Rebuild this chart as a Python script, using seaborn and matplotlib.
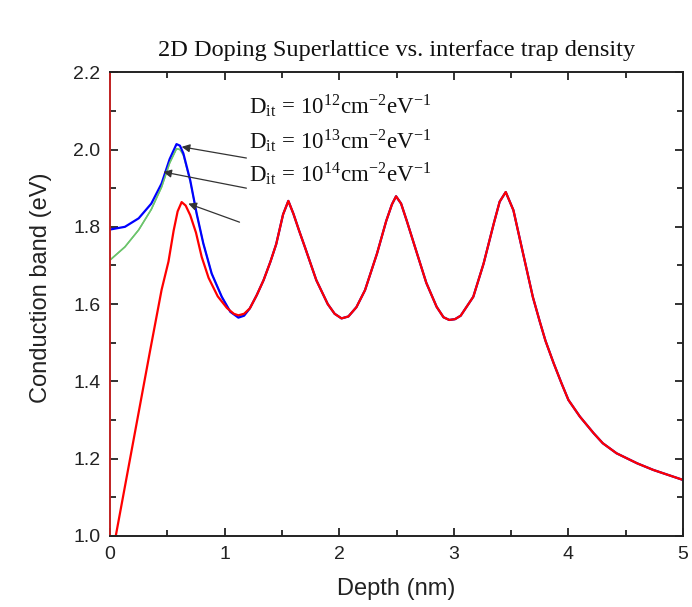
import matplotlib
matplotlib.use("Agg")
import matplotlib.pyplot as plt
import seaborn as sns
import pandas as pd

# ---- data ----
red_x = [0.05, 0.15, 0.25, 0.35, 0.45, 0.51, 0.555, 0.59, 0.625, 0.66, 0.70, 0.75, 0.80,
         0.86, 0.94, 1.02, 1.08, 1.12, 1.17]
red_y = [1.00, 1.16, 1.32, 1.48, 1.637, 1.71, 1.79, 1.84, 1.864, 1.855, 1.83, 1.785, 1.722,
         1.668, 1.62, 1.59, 1.575, 1.571, 1.575]

blue_x = [0.0, 0.13, 0.25, 0.36, 0.45, 0.52, 0.58, 0.61, 0.64, 0.70, 0.756, 0.814, 0.887,
          0.975, 1.05, 1.12, 1.17]
blue_y = [1.793, 1.800, 1.822, 1.86, 1.912, 1.975, 2.014, 2.01, 1.99, 1.92, 1.834, 1.757,
          1.679, 1.619, 1.58, 1.565, 1.57]

green_x = [0.0, 0.13, 0.25, 0.36, 0.45, 0.52, 0.58, 0.61, 0.64, 0.70, 0.756, 0.814, 0.887,
           0.975, 1.05, 1.12, 1.17]
green_y = [1.714, 1.748, 1.792, 1.845, 1.903, 1.965, 2.002, 2.0, 1.985, 1.918, 1.834, 1.757,
           1.679, 1.619, 1.58, 1.567, 1.572]

# common part shared by all three curves
tail_x = [1.22, 1.28, 1.34, 1.40, 1.45, 1.51, 1.556, 1.60, 1.65, 1.70, 1.80, 1.90, 1.96,
          2.02, 2.08, 2.15, 2.225, 2.33, 2.41, 2.46, 2.496, 2.54, 2.59, 2.68, 2.76, 2.85,
          2.91, 2.96, 3.01, 3.06, 3.17, 3.26, 3.35, 3.40, 3.453, 3.52, 3.59, 3.69, 3.75,
          3.80, 3.87, 3.94, 4.00, 4.10, 4.22, 4.30, 4.42, 4.60, 4.74, 5.0]
tail_y = [1.589, 1.623, 1.662, 1.71, 1.755, 1.832, 1.867, 1.834, 1.79, 1.748, 1.662, 1.60,
          1.575, 1.563, 1.568, 1.592, 1.636, 1.731, 1.815, 1.858, 1.879, 1.86, 1.815, 1.73,
          1.655, 1.593, 1.566, 1.559, 1.561, 1.57, 1.619, 1.705, 1.81, 1.865, 1.890, 1.843,
          1.75, 1.618, 1.555, 1.505, 1.448, 1.395, 1.352, 1.309, 1.266, 1.240, 1.214, 1.188,
          1.171, 1.145]

labels = ["10$^{\\mathregular{12}}$", "10$^{\\mathregular{13}}$", "10$^{\\mathregular{14}}$"]
x_ticks = [0, 1, 2, 3, 4, 5]
y_ticks = [1.0, 1.2, 1.4, 1.6, 1.8, 2.0, 2.2]

# ---- style ----
sns.set_theme(style="ticks")
plt.rcParams["font.family"] = ["Liberation Sans", "DejaVu Sans"]
plt.rcParams["mathtext.fontset"] = "stix"

fig = plt.figure(figsize=(6.92, 6.07), dpi=100)
ax = fig.add_axes([0.159, 0.117, 0.828, 0.764])

series = [
    (green_x + tail_x, green_y + tail_y, "#6cc46c", 1.1),
    (blue_x + tail_x, blue_y + tail_y, "#0000ff", 1.6),
    (red_x + tail_x, red_y + tail_y, "#ff0000", 1.6),
]
for xs, ys, c, lw in series:
    df = pd.DataFrame({"x": xs, "y": ys})
    sns.lineplot(data=df, x="x", y="y", color=c, lw=lw, sort=False,
                 estimator=None, ax=ax)
# re-draw green over blue near its own start
sns.lineplot(x=green_x[:8], y=green_y[:8], color="#6cc46c", lw=1.1, sort=False,
             estimator=None, ax=ax)

ax.set_xlim(0, 5)
ax.set_ylim(1.0, 2.2)
ax.set_xticks(x_ticks)
ax.set_yticks(y_ticks)
ax.set_xticklabels([str(v) for v in x_ticks])
ax.set_yticklabels([f"{v:.1f}" for v in y_ticks])
ax.xaxis.set_minor_locator(matplotlib.ticker.MultipleLocator(0.5))
ax.yaxis.set_minor_locator(matplotlib.ticker.MultipleLocator(0.1))
ax.tick_params(which="both", direction="in", top=True, right=True, width=1.3,
               colors="#222222", labelsize=14, labelcolor="#222222")
ax.tick_params(which="major", length=6, pad=7)
ax.tick_params(which="minor", length=4)
for s in ax.spines.values():
    s.set_linewidth(1.4)
    s.set_color("#222222")
ax.spines["left"].set_color("#c02020")

ax.set_xlabel("Depth (nm)", fontsize=17, color="#222222", labelpad=11)
ax.set_ylabel("Conduction band (eV)", fontsize=17, color="#222222")
ax.yaxis.set_label_coords(-0.102, 0.535)
ax.set_title("2D Doping Superlattice vs. interface trap density", fontsize=17.5,
             family="Liberation Serif", color="#111111", pad=12)

# annotations
text_pos = [(1.21, 2.094), (1.21, 2.003), (1.21, 1.918)]
arrow_tail = [(1.19, 1.978), (1.19, 1.900), (1.13, 1.812)]
arrow_tip = [(0.625, 2.007), (0.465, 1.942), (0.683, 1.860)]
for lab, tp, at, ah in zip(labels, text_pos, arrow_tail, arrow_tip):
    ax.text(tp[0], tp[1], "D$_{\\mathregular{it}}$ = " + lab +
            "cm$^{\\mathregular{-2}}$eV$^{\\mathregular{-1}}$",
            family="Liberation Serif", fontsize=16.5, color="#111111", va="baseline")
    ax.annotate("", xy=ah, xytext=at,
                arrowprops=dict(arrowstyle="-|>", color="#333333", lw=0.9,
                                mutation_scale=12, shrinkA=0, shrinkB=0))

fig.savefig("out.png", dpi=100, facecolor="white")
